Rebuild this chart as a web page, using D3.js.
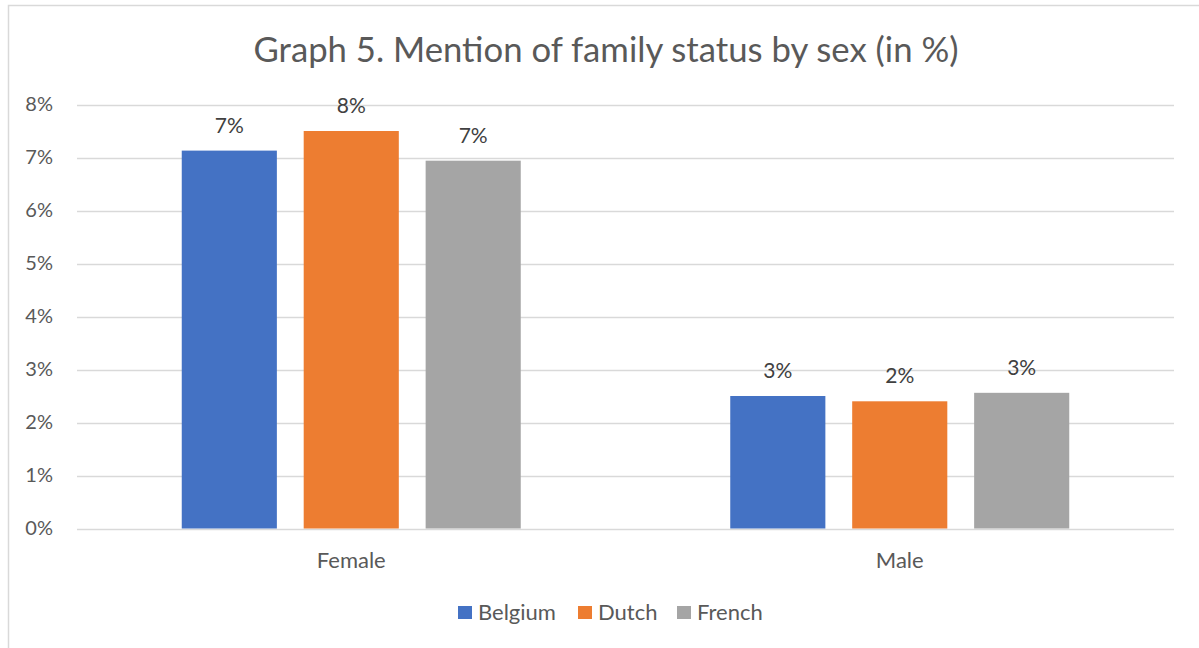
<!DOCTYPE html>
<html>
<head>
<meta charset="utf-8">
<script src="https://cdn.jsdelivr.net/npm/d3@7"></script>
<style>
  body { margin: 0; background: #fff; }
  svg text { font-family: Lato, "Open Sans", sans-serif; }
</style>
</head>
<body>
<div id="chart"></div>
<script>
  /**
   * DATA
   * */
  const categories = ["Female", "Male"];
  const seriesNames = ["Belgium", "Dutch", "French"];
  const belgium = [7.13, 2.5];
  const dutch = [7.5, 2.4];
  const french = [6.94, 2.56];
  const yTicks = [0, 1, 2, 3, 4, 5, 6, 7, 8];
  const colors = ["#4472c4", "#ed7d31", "#a5a5a5"];

  /**
   * CONSTANTS
   * */
  const width = 1199, height = 648;
  const margin = { top: 104.5, bottom: 119.5, left: 77, right: 25 };
  const seriesValues = [belgium, dutch, french];

  const rows = categories.map((c, i) => ({
    cat: c,
    vals: seriesNames.map((s, j) => ({ key: s, value: seriesValues[j][i], idx: j }))
  }));

  const svg = d3.select("#chart")
    .append("svg")
    .attr("width", width)
    .attr("height", height);

  // chart frame
  svg.append("rect")
    .attr("x", 8.5).attr("y", 5.5)
    .attr("width", 1300).attr("height", 700)
    .attr("fill", "#fff")
    .attr("stroke", "#d9d9d9")
    .attr("stroke-width", 1.5);

  const xScale = d3.scaleBand()
    .domain(categories)
    .range([margin.left, width - margin.right]);

  const xInner = d3.scaleBand()
    .domain(seriesNames)
    .range([0, 339])
    .paddingInner(0.22);

  const yScale = d3.scaleLinear()
    .domain([0, 8])
    .range([height - margin.bottom, margin.top]);

  // gridlines
  svg.append("g")
    .selectAll("line")
    .data(yTicks)
    .join("line")
    .attr("x1", margin.left)
    .attr("x2", width - margin.right)
    .attr("y1", d => Math.round(yScale(d)) + 0.5)
    .attr("y2", d => Math.round(yScale(d)) + 0.5)
    .attr("stroke", "#d9d9d9")
    .attr("stroke-width", 1.5);

  // y axis labels
  const yAxis = d3.axisLeft(yScale)
    .tickValues(yTicks)
    .tickFormat(d => d + "%")
    .tickSize(0)
    .tickPadding(24);

  svg.append("g")
    .attr("class", "y-axis")
    .attr("transform", `translate(${margin.left},0)`)
    .call(yAxis)
    .call(g => g.select(".domain").remove())
    .call(g => g.selectAll("text")
      .attr("fill", "#595959")
      .attr("font-size", 20));

  // x axis labels
  const xAxis = d3.axisBottom(xScale).tickSize(0).tickPadding(24);
  svg.append("g")
    .attr("class", "x-axis")
    .attr("transform", `translate(0,${height - margin.bottom})`)
    .call(xAxis)
    .call(g => g.select(".domain").remove())
    .call(g => g.selectAll("text")
      .attr("fill", "#595959")
      .attr("font-size", 22));

  // bars
  const groups = svg.append("g")
    .selectAll("g.group")
    .data(rows)
    .join("g")
    .attr("class", "group")
    .attr("transform", d => `translate(${xScale(d.cat) + xScale.bandwidth() / 2 - 339 / 2},0)`);

  groups.selectAll("rect")
    .data(d => d.vals)
    .join("rect")
    .attr("x", d => xInner(d.key))
    .attr("width", xInner.bandwidth())
    .attr("y", d => yScale(d.value))
    .attr("height", d => yScale(0) - yScale(d.value))
    .attr("fill", d => colors[d.idx]);

  groups.selectAll("text")
    .data(d => d.vals)
    .join("text")
    .attr("x", d => xInner(d.key) + xInner.bandwidth() / 2)
    .attr("y", d => yScale(d.value) - 18)
    .attr("text-anchor", "middle")
    .attr("fill", "#404040")
    .attr("font-size", 21)
    .text(d => Math.round(d.value) + "%");

  // title
  svg.append("text")
    .attr("x", 606)
    .attr("y", 62)
    .attr("text-anchor", "middle")
    .attr("fill", "#595959")
    .attr("font-size", 34.7)
    .text("Graph 5. Mention of family status by sex (in %)");

  // legend
  const legendX = [458, 578, 677];
  const legend = svg.append("g")
    .selectAll("g")
    .data(seriesNames)
    .join("g")
    .attr("transform", (d, i) => `translate(${legendX[i]},606)`);

  legend.append("rect")
    .attr("width", 14).attr("height", 13)
    .attr("fill", (d, i) => colors[i]);

  legend.append("text")
    .attr("x", 20)
    .attr("y", 13.5)
    .attr("fill", "#595959")
    .attr("font-size", 22)
    .text(d => d);
</script>
</body>
</html>
